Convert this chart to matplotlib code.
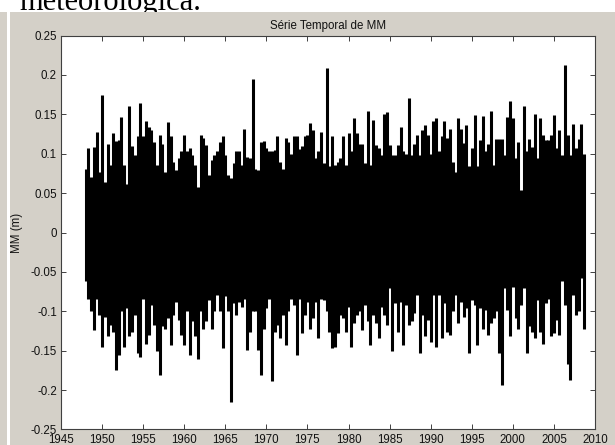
import numpy as np
import matplotlib
matplotlib.use("Agg")
import matplotlib.pyplot as plt
from matplotlib.patches import Rectangle

plt.rcParams['font.family'] = ['Liberation Sans', 'DejaVu Sans']

# Meteorological tide series (MM, metres), summarised as the highest and
# lowest value reached in each 4-month window, starting in 1948.
start_year = 1948.0
window = 1.0 / 3.0

mm_high = [
    0.081, 0.107, 0.071, 0.109, 0.127, 0.077, 0.174, 0.064, 0.112, 0.086,
    0.126, 0.116, 0.117, 0.147, 0.086, 0.062, 0.160, 0.110, 0.098, 0.123,
    0.164, 0.122, 0.141, 0.134, 0.130, 0.115, 0.086, 0.124, 0.113, 0.077,
    0.140, 0.122, 0.090, 0.079, 0.094, 0.103, 0.124, 0.103, 0.107, 0.098,
    0.086, 0.058, 0.124, 0.120, 0.111, 0.073, 0.092, 0.098, 0.103, 0.115,
    0.122, 0.098, 0.073, 0.069, 0.088, 0.103, 0.104, 0.086, 0.132, 0.096,
    0.094, 0.195,
    0.081, 0.079, 0.115, 0.116, 0.107, 0.103, 0.103, 0.105, 0.122, 0.090,
    0.081, 0.120, 0.115, 0.100, 0.122, 0.123, 0.106, 0.110, 0.122, 0.124,
    0.139, 0.130, 0.094, 0.103, 0.128, 0.088, 0.209, 0.084, 0.123, 0.086,
    0.090, 0.095, 0.123, 0.086, 0.126, 0.103, 0.146, 0.126, 0.112, 0.112,
    0.088, 0.154, 0.086, 0.143, 0.111, 0.107, 0.098, 0.151, 0.153, 0.111,
    0.098, 0.098, 0.111, 0.134, 0.103, 0.100, 0.171, 0.098, 0.113, 0.124,
    0.098, 0.130,
    0.136, 0.124, 0.100, 0.141, 0.145, 0.103, 0.122, 0.141, 0.120, 0.131,
    0.090, 0.077, 0.146, 0.131, 0.114, 0.137, 0.084, 0.107, 0.149, 0.084,
    0.117, 0.148, 0.103, 0.113, 0.154, 0.086, 0.119, 0.119, 0.119, 0.098,
    0.147, 0.167, 0.145, 0.094, 0.115, 0.054, 0.161, 0.103, 0.119, 0.109,
    0.150, 0.094, 0.146, 0.124, 0.117, 0.117, 0.124, 0.149, 0.107, 0.130,
    0.098, 0.213, 0.124, 0.098, 0.138, 0.107, 0.119, 0.138, 0.100,
]

mm_low = [
    -0.062, -0.084, -0.100, -0.124, -0.084, -0.105, -0.145, -0.107, -0.132, -0.117,
    -0.126, -0.174, -0.155, -0.100, -0.145, -0.096, -0.132, -0.126, -0.105, -0.153,
    -0.158, -0.084, -0.141, -0.130, -0.092, -0.117, -0.151, -0.181, -0.119, -0.122,
    -0.109, -0.143, -0.105, -0.088, -0.111, -0.130, -0.143, -0.100, -0.155, -0.113,
    -0.132, -0.160, -0.100, -0.122, -0.113, -0.086, -0.122, -0.100, -0.079, -0.100,
    -0.147, -0.081, -0.100, -0.215, -0.090, -0.105, -0.088, -0.094, -0.084, -0.149,
    -0.126, -0.100,
    -0.100, -0.149, -0.181, -0.122, -0.096, -0.084, -0.189, -0.126, -0.117, -0.134,
    -0.105, -0.143, -0.100, -0.084, -0.092, -0.155, -0.084, -0.128, -0.105, -0.088,
    -0.122, -0.109, -0.088, -0.134, -0.084, -0.086, -0.100, -0.126, -0.147, -0.145,
    -0.128, -0.105, -0.109, -0.126, -0.094, -0.145, -0.115, -0.105, -0.100, -0.124,
    -0.092, -0.113, -0.143, -0.105, -0.115, -0.134, -0.094, -0.105, -0.117, -0.071,
    -0.151, -0.090, -0.126, -0.088, -0.143, -0.092, -0.117, -0.113, -0.102, -0.079,
    -0.153, -0.105,
    -0.132, -0.111, -0.139, -0.079, -0.145, -0.079, -0.134, -0.090, -0.126, -0.130,
    -0.100, -0.079, -0.115, -0.088, -0.107, -0.096, -0.153, -0.086, -0.092, -0.143,
    -0.096, -0.122, -0.098, -0.130, -0.115, -0.109, -0.100, -0.153, -0.194, -0.071,
    -0.098, -0.132, -0.069, -0.109, -0.122, -0.092, -0.071, -0.153, -0.119, -0.126,
    -0.134, -0.086, -0.126, -0.141, -0.090, -0.084, -0.132, -0.128, -0.111, -0.130,
    -0.062, -0.092, -0.167, -0.187, -0.079, -0.105, -0.100, -0.058, -0.122,
]

x_ticks = list(range(1945, 2011, 5))
y_ticks = [-0.25, -0.2, -0.15, -0.1, -0.05, 0, 0.05, 0.1, 0.15, 0.2, 0.25]

years = start_year + window * np.arange(len(mm_high))

W, H = 615, 445
fig = plt.figure(figsize=(W / 100, H / 100), dpi=100, facecolor='white')

# grey window background with a thin frame strip on the left
grey = '#d4d0c8'
fig.patches.append(Rectangle((10 / W, 0), 1 - 10 / W, (H - 12) / H,
                             transform=fig.transFigure, facecolor=grey,
                             edgecolor='none', zorder=-1))
fig.patches.append(Rectangle((0, 0), 7 / W, (H - 12) / H,
                             transform=fig.transFigure, facecolor=grey,
                             edgecolor='none', zorder=-1))
fig.text(19 / W, 1 - 10 / H, 'meteorológica.', family='Liberation Serif',
         fontsize=22, ha='left', va='baseline', color='black', zorder=-2)

ax = fig.add_axes([61 / W, 15.6 / H, 534 / W, 393.8 / H])
ax.set_facecolor('white')
ax.vlines(years, mm_low, mm_high, colors='black', linewidth=2.2)

ax.set_xlim(1945, 2010)
ax.set_ylim(-0.25, 0.25)
ax.set_xticks(x_ticks)
ax.set_xticklabels([str(t) for t in x_ticks])
ax.set_yticks(y_ticks)
ax.set_yticklabels(['%g' % t for t in y_ticks])

ax.tick_params(direction='in', length=3.6, width=0.7, top=True, right=True,
               color='#404040', labelcolor='#111111', labelsize=8.3, pad=3)
for s in ax.spines.values():
    s.set_color('#404040')
    s.set_linewidth(0.8)

ax.set_title('Série Temporal de MM', fontsize=8.3, pad=5, color='#111111')
ax.set_ylabel('MM (m)', fontsize=8.3, color='#111111')
ax.yaxis.set_label_coords(-0.072, 0.5)

fig.savefig('out.png', dpi=100, facecolor=fig.get_facecolor())
